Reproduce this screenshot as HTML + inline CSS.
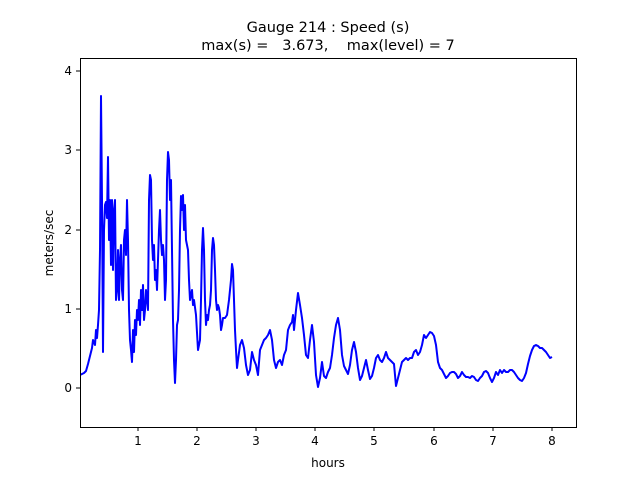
<!DOCTYPE html>
<html><head><style>body{margin:0;background:#fff}</style></head><body>
<svg width="640" height="480" xmlns="http://www.w3.org/2000/svg" font-family="DejaVu Sans, Liberation Sans, sans-serif">
<rect width="640" height="480" fill="#fff"/>
<text x="328" y="32" font-size="14.5" text-anchor="middle">Gauge 214 : Speed (s)</text>
<text x="328" y="50" font-size="14.5" text-anchor="middle" xml:space="preserve">max(s) =   3.673,    max(level) = 7</text>
<svg x="80" y="58" width="496" height="369" overflow="hidden"><g transform="translate(-80,-58)">
<polyline fill="none" stroke="#0000ff" stroke-width="2" stroke-linejoin="round" points="80,375 84,373 86,371 88,364 90,356 92,348 93,340 95,345 96,330 97,338 98,325 99,310 100,250 101,96 102,200 103,352 104,230 105,205 106,202 107,218 108,157 109,240 110,200 111,265 112,200 113,270 114,210 115,200 116,300 117,290 118,250 119,300 120,260 121,245 122,290 123,300 124,240 125,230 126,255 127,200 128,240 129,310 130,340 131,350 132,362 133,330 134,352 135,320 136,335 137,310 138,320 139,300 140,325 141,290 142,310 143,285 144,320 145,310 146,290 147,300 148,310 149,200 150,175 151,180 152,240 153,260 154,245 155,280 156,270 157,290 158,260 159,230 160,210 161,240 162,255 163,245 164,260 165,300 166,280 167,180 168,152 169,160 170,200 171,180 172,250 173,320 174,360 175,383 176,360 177,325 178,320 179,290 180,230 181,196 182,210 183,195 184,230 185,205 186,240 187,245 188,250 189,280 190,300 192,290 193,305 194,300 196,315 198,350 200,340 201,300 202,250 203,228 204,250 205,300 206,325 207,315 208,320 209,310 210,305 211,290 212,250 213,238 214,245 215,270 216,300 217,310 218,305 219,308 220,315 221,330 222,325 223,318 225,318 227,315 229,300 230,290 231,280 232,264 233,270 234,300 235,330 236,350 237,368 238,360 240,345 242,340 244,348 246,365 248,375 250,370 252,352 254,360 256,365 258,375 260,350 262,345 264,340 266,338 268,335 270,330 272,340 274,360 276,368 278,362 280,360 282,365 284,355 286,350 288,330 290,325 292,322 293,315 294,330 296,310 298,293 300,305 302,318 304,335 306,355 308,358 310,340 312,325 314,342 316,375 318,387 320,378 322,362 324,376 326,378 328,372 330,368 332,355 334,338 336,325 338,318 340,330 342,355 344,366 346,370 348,374 350,365 352,350 354,342 356,352 358,368 360,380 362,376 364,368 366,360 368,370 370,379 372,376 374,368 376,358 378,355 380,360 382,362 384,358 386,352 388,358 390,360 392,362 394,364 396,386 398,378 400,370 402,362 404,360 406,358 408,360 410,358 412,358 414,352 416,350 418,355 420,352 422,345 424,335 426,338 428,335 430,332 432,333 434,336 436,345 438,362 440,368 442,370 444,374 446,378 448,376 450,373 452,372 454,372 456,374 458,378 460,376 462,372 464,375 466,377 468,377 470,378 472,376 474,377 476,380 478,381 480,378 482,376 484,372 486,371 488,373 490,378 492,382 494,378 496,372 498,375 500,370 502,373 504,370 506,372 508,372 510,370 512,370 514,372 516,375 518,378 520,380 522,381 524,378 526,373 528,364 530,356 532,350 534,346 536,345 538,346 540,348 542,348 544,350 546,352 548,355 550,358 552,357"/>
</g></svg>
<rect x="80.5" y="58.5" width="496" height="369" fill="none" stroke="#000" stroke-width="1"/>
<g stroke="#000" stroke-width="1">
<line x1="138" y1="427" x2="138" y2="431"/><line x1="197" y1="427" x2="197" y2="431"/><line x1="256" y1="427" x2="256" y2="431"/><line x1="315" y1="427" x2="315" y2="431"/><line x1="374" y1="427" x2="374" y2="431"/><line x1="434" y1="427" x2="434" y2="431"/><line x1="493" y1="427" x2="493" y2="431"/><line x1="552" y1="427" x2="552" y2="431"/>
<line x1="76" y1="388" x2="80" y2="388"/><line x1="76" y1="309" x2="80" y2="309"/><line x1="76" y1="230" x2="80" y2="230"/><line x1="76" y1="150" x2="80" y2="150"/><line x1="76" y1="71" x2="80" y2="71"/>
</g>
<g font-size="12" text-anchor="middle">
<text x="138" y="445">1</text><text x="197" y="445">2</text><text x="256" y="445">3</text><text x="315" y="445">4</text><text x="374" y="445">5</text><text x="434" y="445">6</text><text x="493" y="445">7</text><text x="552" y="445">8</text>
</g>
<g font-size="12" text-anchor="end">
<text x="72" y="392">0</text><text x="72" y="313">1</text><text x="72" y="234">2</text><text x="72" y="154">3</text><text x="72" y="75">4</text>
</g>
<text x="328" y="467" font-size="12" text-anchor="middle">hours</text>
<text transform="translate(53,243) rotate(-90)" font-size="12" text-anchor="middle">meters/sec</text>
</svg>
</body></html>
